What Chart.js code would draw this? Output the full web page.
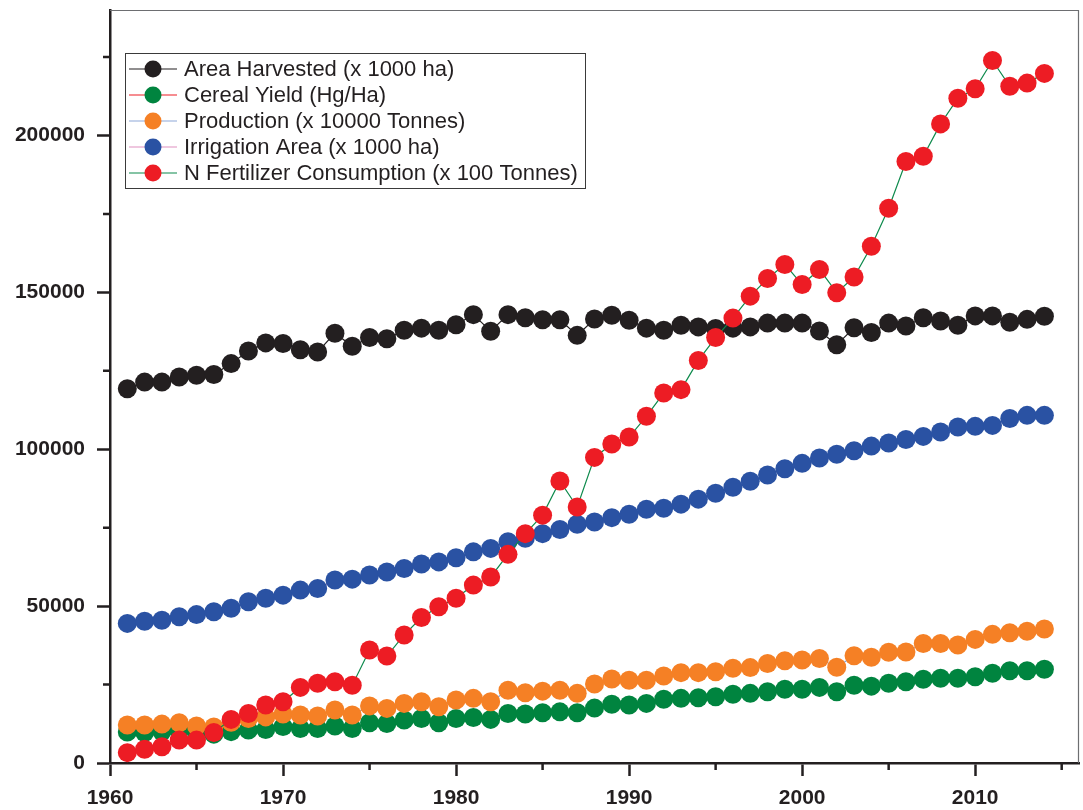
<!DOCTYPE html>
<html>
<head>
<meta charset="utf-8">
<script src="https://cdn.jsdelivr.net/npm/chart.js@4.4.1/dist/chart.umd.min.js"></script>
<style>
  html, body { margin: 0; padding: 0; background: #fff; }
  #wrap { width: 1083px; height: 810px; }
</style>
</head>
<body>
<div id="wrap"><canvas id="grafico" width="1083" height="810"></canvas></div>
<script>
const anos = [1961, 1962, 1963, 1964, 1965, 1966, 1967, 1968, 1969, 1970,
  1971, 1972, 1973, 1974, 1975, 1976, 1977, 1978, 1979, 1980,
  1981, 1982, 1983, 1984, 1985, 1986, 1987, 1988, 1989, 1990,
  1991, 1992, 1993, 1994, 1995, 1996, 1997, 1998, 1999, 2000,
  2001, 2002, 2003, 2004, 2005, 2006, 2007, 2008, 2009, 2010,
  2011, 2012, 2013, 2014];

const areaColhida = [119300, 121400, 121400, 123000, 123600, 123800, 127300, 131300, 133900, 133700,
  131700, 131000, 137000, 132800, 135600, 135200, 137900, 138600, 137900, 139700,
  142900, 137600, 142900, 141900, 141300, 141300, 136300, 141500, 142700, 141100,
  138600, 137900, 139500, 139000, 138500, 138600, 139000, 140200, 140200, 140200,
  137700, 133300, 138700, 137200, 140200, 139300, 141900, 140900, 139500, 142500,
  142500, 140500, 141400, 142400];

const rendimento = [9900, 9700, 10000, 10300, 9600, 9200, 10000, 10500, 10700, 11600,
  11000, 11000, 11800, 11000, 12800, 12600, 13700, 14200, 12800, 14200,
  14500, 13900, 15800, 15600, 16000, 16300, 16000, 17500, 18700, 18500,
  19000, 20300, 20600, 20800, 21100, 21900, 22200, 22700, 23500, 23500,
  24100, 22700, 24800, 24500, 25400, 25900, 26700, 27000, 27000, 27500,
  28600, 29400, 29400, 29900];

const producao = [12100, 12100, 12400, 12800, 11800, 11500, 13000, 14200, 14700, 15600,
  15300, 15000, 16900, 15300, 18200, 17400, 19000, 19500, 17900, 20100,
  20600, 19500, 23200, 22400, 22900, 23200, 22200, 25200, 26800, 26400,
  26400, 27700, 28800, 28800, 29100, 30200, 30400, 31700, 32600, 32800,
  33300, 30500, 34200, 33700, 35300, 35400, 38100, 38100, 37600, 39400,
  41000, 41500, 42000, 42700];

const irrigacao = [44500, 45200, 45500, 46600, 47300, 48200, 49300, 51400, 52500, 53500,
  55100, 55600, 58300, 58600, 59900, 60900, 62000, 63400, 64100, 65400,
  67300, 68400, 70500, 71600, 73100, 74400, 76100, 76800, 78200, 79300,
  80900, 81200, 82500, 84100, 86000, 87900, 89800, 91800, 93800, 95500,
  97200, 98400, 99500, 101000, 102000, 103100, 104100, 105500, 107100, 107300,
  107600, 109800, 110800, 110800];

const fertilizante = [3300, 4400, 5200, 7300, 7300, 9700, 13900, 15800, 18500, 19500,
  24100, 25400, 25900, 24800, 36000, 34100, 40800, 46400, 49800, 52500,
  56700, 59300, 66500, 73100, 79000, 89900, 81600, 97400, 101700, 103900,
  110500, 117900, 119000, 128300, 135600, 141800, 148800, 154400, 158900, 152500,
  157300, 149900, 154900, 164700, 176800, 191700, 193400, 203700, 211900, 214900,
  223900, 215700, 216700, 219800];

const ticksY = [0, 50000, 100000, 150000, 200000];
const ticksX = [1960, 1970, 1980, 1990, 2000, 2010];

const FONTE = "'Liberation Sans', Arial, Helvetica, sans-serif";
const ESCURO = '#231f20';

function pontos(valores) {
  return valores.map((v, i) => ({ x: anos[i], y: v }));
}

function serie(nome, valores, corPonto, corLinha, ordem) {
  return {
    label: nome,
    data: pontos(valores),
    borderColor: corLinha,
    borderWidth: 1.2,
    backgroundColor: corPonto,
    pointBackgroundColor: corPonto,
    pointBorderWidth: 0,
    pointRadius: 9.5,
    pointHoverRadius: 9.5,
    tension: 0,
    order: ordem
  };
}

// ticks menores e moldura fina em cima/direita
const moldura = {
  id: 'moldura',
  afterDraw(chart) {
    const ctx = chart.ctx;
    const a = chart.chartArea;
    const sx = chart.scales.x, sy = chart.scales.y;
    ctx.save();
    ctx.strokeStyle = '#6d6e71';
    ctx.lineWidth = 1.2;
    ctx.beginPath();
    ctx.moveTo(a.left, a.top + 0.5);
    ctx.lineTo(a.right - 0.5, a.top + 0.5);
    ctx.lineTo(a.right - 0.5, a.bottom);
    ctx.stroke();

    ctx.strokeStyle = ESCURO;
    ctx.lineWidth = 2.5;
    ctx.beginPath();
    for (let v = 25000; v < 240000; v += 50000) {
      const y = sy.getPixelForValue(v);
      ctx.moveTo(a.left, y);
      ctx.lineTo(a.left - 7, y);
    }
    for (let v = 1965; v <= 2015; v += 10) {
      const x = sx.getPixelForValue(v);
      ctx.moveTo(x, a.bottom);
      ctx.lineTo(x, a.bottom + 7);
    }
    ctx.stroke();
    ctx.restore();
  }
};

// legenda com borda
const legenda = {
  id: 'legenda',
  afterDraw(chart) {
    const ctx = chart.ctx;
    const coresLinha = ['#231f20', '#ed1c24', '#8ea7d8', '#df8fc0', '#0d8a4c'];
    const x0 = 125, y0 = 53, w = 460, h = 135;
    ctx.save();
    ctx.fillStyle = '#fff';
    ctx.fillRect(x0, y0, w, h);
    ctx.strokeStyle = '#3a3a3a';
    ctx.lineWidth = 1;
    ctx.strokeRect(x0 + 0.5, y0 + 0.5, w, h);
    ctx.font = '22px ' + FONTE;
    ctx.textBaseline = 'middle';
    chart.data.datasets.forEach((ds, i) => {
      const y = 69 + i * 26;
      ctx.strokeStyle = coresLinha[i];
      ctx.lineWidth = 1.2;
      ctx.beginPath();
      ctx.moveTo(129, y);
      ctx.lineTo(177, y);
      ctx.stroke();
      ctx.fillStyle = ds.pointBackgroundColor;
      ctx.beginPath();
      ctx.arc(153, y, 8.5, 0, Math.PI * 2);
      ctx.fill();
      ctx.fillStyle = ESCURO;
      ctx.fillText(ds.label, 184, y + 1);
    });
    ctx.restore();
  }
};

const ctx = document.getElementById('grafico').getContext('2d');
new Chart(ctx, {
  type: 'line',
  data: {
    datasets: [
      serie('Area Harvested (x 1000 ha)', areaColhida, '#231f20', '#231f20', 5),
      serie('Cereal Yield (Hg/Ha)', rendimento, '#00843f', '#ed1c24', 4),
      serie('Production (x 10000 Tonnes)', producao, '#f58025', '#8ea7d8', 3),
      serie('Irrigation Area (x 1000 ha)', irrigacao, '#2a52a3', '#df8fc0', 2),
      serie('N Fertilizer Consumption (x 100 Tonnes)', fertilizante, '#ed1c24', '#0d8a4c', 1)
    ]
  },
  options: {
    responsive: false,
    animation: false,
    layout: { autoPadding: false, padding: { top: 10, right: 4, left: 0, bottom: 0 } },
    plugins: {
      legend: { display: false },
      tooltip: { enabled: false }
    },
    scales: {
      x: {
        type: 'linear',
        min: 1960,
        max: 2016,
        afterFit(s) { s.height = 47; s.paddingLeft = 0; s.paddingRight = 0; },
        afterBuildTicks(s) { s.ticks = ticksX.map(v => ({ value: v })); },
        border: { display: true, color: ESCURO, width: 2.5 },
        grid: { drawOnChartArea: false, drawTicks: true, tickLength: 13, tickWidth: 2.5, tickColor: ESCURO },
        ticks: {
          padding: 10,
          color: ESCURO,
          font: { family: FONTE, size: 21, weight: 'bold' },
          callback: v => String(v)
        }
      },
      y: {
        min: 0,
        max: 240000,
        afterFit(s) { s.width = 110; s.paddingTop = 0; s.paddingBottom = 0; },
        afterBuildTicks(s) { s.ticks = ticksY.map(v => ({ value: v })); },
        border: { display: true, color: ESCURO, width: 2.5 },
        grid: { drawOnChartArea: false, drawTicks: true, tickLength: 13, tickWidth: 2.5, tickColor: ESCURO },
        ticks: {
          padding: 12,
          color: ESCURO,
          font: { family: FONTE, size: 21, weight: 'bold' },
          callback: v => String(v)
        }
      }
    }
  },
  plugins: [moldura, legenda]
});
</script>
</body>
</html>
